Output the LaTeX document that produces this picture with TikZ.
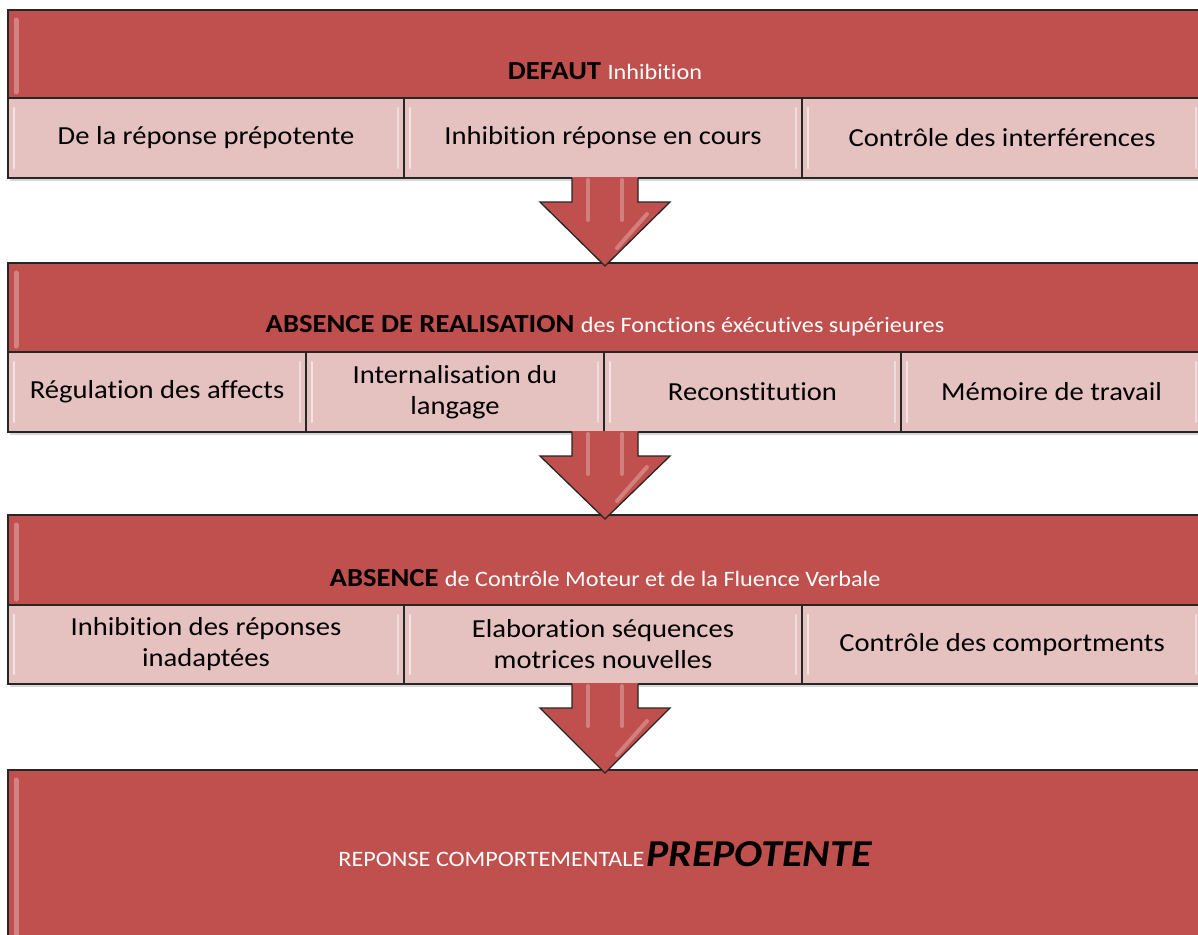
\documentclass[tikz,border=0pt]{standalone}
\usepackage{fontspec}
\setmainfont{Carlito}[FakeStretch=1.1, RawFeature={-liga;-dlig;-clig}]
\usetikzlibrary{calc,shadows}
\definecolor{hdred}{HTML}{C0504D}
\definecolor{cellpink}{HTML}{E5C1C0}
\newcommand\flowarrow[2]{%
  \fill[hdred] ($(#1)+(-33,-1)$) -- ($(#1)+(-33,24)$) -- ($(#1)+(-65,24)$) -- (#2) -- ($(#1)+(65,24)$) -- ($(#1)+(33,24)$) -- ($(#1)+(33,-1)$) -- cycle;
  \draw[hilite] ($(#1)+(-17,2)$) -- ($(#1)+(-17,42)$);
  \draw[hilite] ($(#1)+(17,2)$) -- ($(#1)+(17,42)$);
  \draw[hilite] ($(#2)+(42,-52)$) -- ($(#2)+(12,-18)$);
  \draw[arrowline] ($(#1)+(-33,0)$) -- ($(#1)+(-33,24)$) -- ($(#1)+(-65,24)$) -- (#2) -- ($(#1)+(65,24)$) -- ($(#1)+(33,24)$) -- ($(#1)+(33,0)$);
}
\newcommand\cellbevel[1]{%
  \draw[white, opacity=0.55, line width=2.5pt, line cap=round] ($(#1.north west)+(6,10)$) -- ($(#1.south west)+(6,-10)$);
  \draw[white, opacity=0.45, line width=2.5pt, line cap=round] ($(#1.north east)+(-6,10)$) -- ($(#1.south east)+(-6,-10)$);
}
\newcommand\hdrbevel[1]{%
  \draw[white, opacity=0.3, line width=5pt, line cap=round] ($(#1.north west)+(8,10)$) -- ($(#1.south west)+(8,-6)$);
}
\begin{document}
\begin{tikzpicture}[x=1pt,y=-1pt,
  hdrbox/.style={draw=black!85, line width=1.3pt, fill=hdred, anchor=north west,
    inner sep=0pt, outer sep=0pt, minimum width=1194,
    drop shadow={shadow xshift=1.5pt, shadow yshift=-2.5pt, opacity=0.3}},
  cellbox/.style={draw=black!85, line width=1.3pt, fill=cellpink, anchor=north west,
    inner sep=0pt, outer sep=0pt, minimum height=80, align=center,
    font=\fontsize{26}{31}\selectfont, text=black,
    drop shadow={shadow xshift=1.5pt, shadow yshift=-2.5pt, opacity=0.3}},
  hdrtext/.style={anchor=base, inner sep=0pt, font=\fontsize{26}{30}\selectfont\bfseries, text=black},
  hilite/.style={white, opacity=0.28, line width=4pt, line cap=round},
  arrowline/.style={draw=black!85, line width=1.3pt, line join=miter}
]
\useasboundingbox (0,0) rectangle (1198,934);
\clip (0,0) rectangle (1198,934);

% Block 1
\node[hdrbox, minimum height=88] (h1) at (8,10) {};
\hdrbevel{h1}
\node[hdrtext] (t1) at ($(h1.south)+(0,-19)$) {DEFAUT {\fontsize{22}{26}\selectfont\mdseries\color{white} Inhibition}};
\node[cellbox, minimum width=396] (c11) at (8,98) {De la réponse prépotente};
\node[cellbox, minimum width=398] (c12) at (404,98) {Inhibition réponse en cours};
\node[cellbox, minimum width=400] (c13) at (802,98) {Contrôle des interférences};
\cellbevel{c11}\cellbevel{c12}\cellbevel{c13}

% Block 2
\node[hdrbox, minimum height=89] (h2) at (8,263) {};
\hdrbevel{h2}
\node[hdrtext] (t2) at ($(h2.south)+(0,-20)$) {ABSENCE DE REALISATION {\fontsize{22}{26}\selectfont\mdseries\color{white} des Fonctions éxécutives supérieures}};
\node[cellbox, minimum width=298] (c21) at (8,352) {Régulation des affects};
\node[cellbox, minimum width=298] (c22) at (306,352) {Internalisation du\\langage};
\node[cellbox, minimum width=297] (c23) at (604,352) {Reconstitution};
\node[cellbox, minimum width=301] (c24) at (901,352) {Mémoire de travail};
\cellbevel{c21}\cellbevel{c22}\cellbevel{c23}\cellbevel{c24}

% Block 3
\node[hdrbox, minimum height=90] (h3) at (8,515) {};
\hdrbevel{h3}
\node[hdrtext] (t3) at ($(h3.south)+(0,-19)$) {ABSENCE {\fontsize{22}{26}\selectfont\mdseries\color{white} de Contrôle Moteur et de la Fluence Verbale}};
\node[cellbox, minimum width=396, minimum height=79] (c31) at (8,605) {Inhibition des réponses\\inadaptées};
\node[cellbox, minimum width=398, minimum height=79] (c32) at (404,605) {Elaboration séquences\\motrices nouvelles};
\node[cellbox, minimum width=400, minimum height=79] (c33) at (802,605) {Contrôle des comportments};
\cellbevel{c31}\cellbevel{c32}\cellbevel{c33}

% Block 4
\node[hdrbox, minimum height=200] (h4) at (8,770) {};
\hdrbevel{h4}
\node[anchor=base, inner sep=0pt] (t4) at ($(h4.north)+(0,96)$) {{\fontsize{22}{26}\selectfont\color{white}REPONSE COMPORTEMENTALE}\kern2pt{\fontsize{38}{44}\selectfont\bfseries\itshape PREPOTENTE}};

% Arrows
\coordinate (a1) at (h1.south |- c12.south);
\coordinate (a2) at (h2.south |- c22.south);
\coordinate (a3) at (h3.south |- c32.south);
\flowarrow{a1}{$(h2.north)+(0,3)$}
\flowarrow{a2}{$(h3.north)+(0,4)$}
\flowarrow{a3}{$(h4.north)+(0,3)$}
\end{tikzpicture}
\end{document}
